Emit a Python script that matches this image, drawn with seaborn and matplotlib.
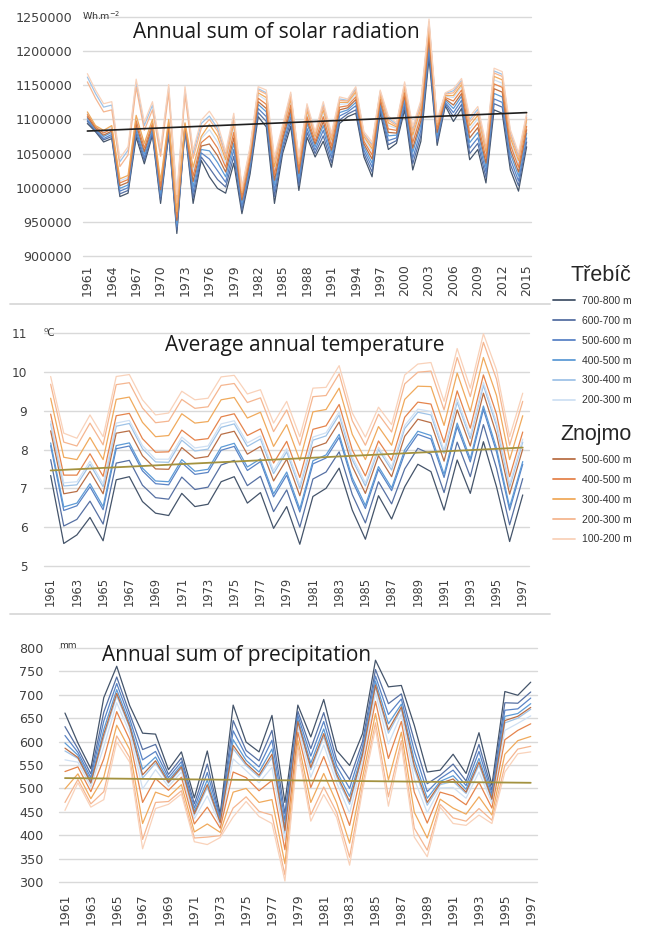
import pandas as pd
import matplotlib
matplotlib.use("Agg")
import matplotlib.pyplot as plt
from matplotlib.lines import Line2D
import seaborn as sns

# ---------------------------------------------------------------- data
years_solar = list(range(1961, 2016))
years_clim = list(range(1961, 1998))

bands_trebic = ["700-800 m", "600-700 m", "500-600 m", "400-500 m", "300-400 m", "200-300 m"]
bands_znojmo = ["500-600 m", "400-500 m", "300-400 m", "200-300 m", "100-200 m"]

# Annual sum of solar radiation, thousands of Wh.m-2
sol_t700 = [1094,1082,1067,1072,987,992,1074,1035,1077,977,1078,933,1085,977,1040,
            1016,999,992,1036,962,1020,1104,1089,977,1050,
            1090,996,1074,1045,1068,1030,1094,1104,1109,1045,
            1016,1110,1056,1065,1114,1026,1068,1190,1062,1120,
            1097,1116,1041,1056,1007,1114,1109,1026,995,1060]
sol_t600 = [1097,1083,1070,1075,991,996,1079,1040,1080,982,1081,938,1087,985,1045,
            1029,1012,1001,1046,967,1026,1110,1097,987,1056,
            1097,1003,1081,1050,1076,1037,1099,1108,1114,1050,
            1023,1115,1063,1069,1120,1035,1076,1198,1067,1123,
            1104,1122,1050,1065,1015,1123,1118,1034,1003,1067]
sol_t500 = [1099,1085,1072,1078,995,1000,1084,1044,1084,987,1085,943,1088,993,1051,
            1042,1025,1008,1056,973,1031,1116,1104,995,1061,
            1104,1009,1087,1055,1084,1044,1105,1111,1120,1055,
            1030,1119,1069,1073,1125,1043,1084,1205,1072,1125,
            1110,1128,1058,1073,1023,1130,1125,1042,1010,1073]
sol_t400 = [1102,1086,1075,1081,999,1004,1088,1049,1087,992,1088,947,1090,1001,1056,
            1054,1037,1016,1065,978,1036,1122,1111,1004,1067,
            1110,1016,1094,1060,1091,1050,1110,1114,1125,1060,
            1036,1123,1076,1077,1130,1052,1092,1213,1077,1128,
            1116,1134,1066,1081,1030,1138,1133,1050,1017,1080]
sol_t300 = [1162,1138,1118,1121,1038,1055,1154,1091,1121,1053,1146,985,1143,1050,1094,
            1105,1087,1049,1104,998,1057,1145,1139,1040,1089,
            1137,1042,1120,1079,1122,1077,1130,1128,1145,1079,
            1063,1141,1102,1093,1152,1086,1124,1243,1097,1138,
            1142,1157,1100,1115,1061,1171,1166,1081,1047,1106]
sol_t200 = [1109,1090,1082,1089,1010,1015,1103,1062,1098,1007,1098,962,1094,1025,1072,
            1085,1067,1036,1089,990,1049,1136,1128,1026,1080,
            1126,1031,1109,1072,1110,1066,1122,1123,1137,1072,
            1053,1134,1091,1087,1144,1072,1111,1231,1089,1134,
            1132,1148,1086,1101,1049,1158,1153,1068,1035,1095]
sol_z500 = [1104,1087,1077,1083,1003,1008,1093,1053,1091,997,1091,952,1091,1009,1061,
            1064,1047,1023,1073,982,1040,1126,1116,1011,1071,
            1115,1021,1099,1064,1097,1055,1114,1117,1129,1064,
            1042,1127,1081,1080,1135,1058,1098,1219,1081,1130,
            1121,1138,1073,1088,1036,1145,1140,1056,1023,1085]
sol_z400 = [1107,1089,1080,1086,1007,1012,1098,1058,1094,1002,1095,957,1093,1017,1066,
            1076,1058,1030,1081,986,1045,1131,1122,1019,1076,
            1121,1026,1104,1068,1104,1061,1118,1120,1133,1068,
            1048,1130,1086,1084,1139,1066,1105,1225,1086,1132,
            1127,1143,1080,1095,1043,1152,1147,1063,1030,1090]
sol_z300 = [1111,1091,1084,1091,1013,1018,1106,1065,1100,1010,1100,965,1095,1030,1075,
            1093,1075,1041,1094,993,1052,1139,1132,1031,1084,
            1130,1035,1113,1075,1114,1070,1125,1125,1140,1075,
            1057,1136,1095,1089,1147,1077,1116,1236,1092,1135,
            1135,1151,1091,1106,1053,1163,1158,1073,1040,1099]
sol_z200 = [1155,1131,1111,1114,1031,1048,1147,1084,1114,1046,1139,978,1136,1043,1087,
            1100,1083,1046,1100,996,1055,1143,1137,1037,1087,
            1134,1039,1117,1078,1119,1074,1128,1127,1143,1078,
            1061,1139,1099,1091,1150,1082,1121,1240,1095,1137,
            1139,1155,1096,1111,1058,1168,1163,1078,1044,1103]
sol_z100 = [1167,1143,1123,1126,1043,1060,1159,1096,1126,1058,1151,990,1148,1055,1099,
            1112,1094,1053,1109,1001,1060,1148,1143,1045,1092,
            1140,1045,1123,1082,1126,1080,1133,1130,1148,1082,
            1067,1143,1105,1095,1155,1090,1128,1247,1100,1139,
            1145,1160,1104,1119,1065,1175,1170,1085,1051,1109]
sol_trend = [1083, 1110]

# Average annual temperature, deg C
tmp_t700 = [7.33,5.58,5.80,6.25,5.65,7.22,7.30,6.66,6.36,6.30,
            6.87,6.53,6.59,7.17,7.30,6.62,6.89,5.97,6.53,5.56,
            6.79,7.00,7.52,6.44,5.69,6.81,6.21,7.04,7.62,7.43,
            6.44,7.73,6.87,8.20,7.04,5.63,6.83]
tmp_t600 = [7.74,6.03,6.20,6.67,6.08,7.65,7.72,7.08,6.76,6.72,
            7.29,6.97,7.03,7.60,7.72,7.07,7.31,6.40,6.96,6.00,
            7.24,7.42,7.94,6.84,6.11,7.17,6.60,7.50,8.03,7.88,
            6.89,8.19,7.30,8.64,7.52,6.06,7.25]
tmp_t500 = [8.10,6.43,6.55,7.04,6.45,8.02,8.09,7.45,7.12,7.09,
            7.66,7.36,7.41,7.98,8.08,7.46,7.69,6.78,7.34,6.39,
            7.63,7.78,8.31,7.19,6.48,7.49,6.94,7.90,8.39,8.27,
            7.28,8.59,7.68,9.03,7.94,6.44,7.62]
tmp_t400 = [8.17,6.52,6.62,7.12,6.53,8.10,8.17,7.52,7.19,7.17,
            7.74,7.44,7.49,8.06,8.16,7.55,7.76,6.86,7.42,6.47,
            7.71,7.86,8.39,7.27,6.56,7.56,7.01,7.99,8.47,8.36,
            7.36,8.68,7.76,9.12,8.03,6.52,7.69]
tmp_t300 = [8.66,7.06,7.09,7.62,7.04,8.60,8.67,8.02,7.68,7.67,
            8.24,7.96,8.01,8.57,8.66,8.08,8.27,7.38,7.94,7.00,
            8.24,8.35,8.89,7.74,7.06,8.00,7.47,8.54,8.96,8.89,
            7.90,9.22,8.28,9.65,8.61,7.03,8.19]
tmp_t200 = [8.73,7.14,7.17,7.70,7.12,8.68,8.75,8.10,7.75,7.75,
            8.32,8.04,8.09,8.66,8.74,8.17,8.35,7.46,8.02,7.08,
            8.32,8.43,8.97,7.82,7.14,8.06,7.55,8.62,9.04,8.98,
            7.98,9.31,8.36,9.73,8.70,7.12,8.27]
tmp_z500 = [8.48,6.86,6.92,7.44,6.86,8.42,8.48,7.84,7.50,7.49,
            8.05,7.77,7.82,8.39,8.47,7.88,8.08,7.19,7.75,6.81,
            8.05,8.17,8.71,7.57,6.87,7.84,7.30,8.34,8.78,8.69,
            7.70,9.02,8.09,9.45,8.39,6.85,8.01]
tmp_z400 = [8.91,7.34,7.34,7.89,7.31,8.87,8.93,8.28,7.93,7.94,
            8.50,8.24,8.28,8.84,8.92,8.36,8.53,7.65,8.21,7.28,
            8.52,8.61,9.16,7.99,7.32,8.22,7.72,8.83,9.22,9.17,
            8.18,9.51,8.55,9.92,8.91,7.30,8.45]
tmp_z300 = [9.32,7.80,7.74,8.31,7.74,9.29,9.35,8.70,8.33,8.36,
            8.92,8.68,8.72,9.28,9.34,8.81,8.96,8.08,8.64,7.72,
            8.97,9.03,9.58,8.39,7.74,8.59,8.11,9.29,9.63,9.62,
            8.62,9.97,8.98,10.37,9.39,7.74,8.87]
tmp_z200 = [9.68,8.19,8.09,8.68,8.12,9.67,9.72,9.07,8.69,8.73,
            9.29,9.06,9.10,9.65,9.70,9.21,9.33,8.46,9.02,8.11,
            9.36,9.39,9.95,8.74,8.11,8.91,8.45,9.69,9.99,10.02,
            9.02,10.37,9.36,10.76,9.81,8.11,9.24]
tmp_z100 = [9.88,8.42,8.29,8.89,8.33,9.88,9.93,9.28,8.89,8.94,
            9.50,9.28,9.32,9.87,9.91,9.43,9.54,8.68,9.24,8.33,
            9.58,9.60,10.16,8.94,8.32,9.09,8.64,9.92,10.20,10.24,
            9.24,10.60,9.58,10.98,10.05,8.33,9.45]
tmp_trend = [7.46, 8.05]

# Annual sum of precipitation, mm
pre_t700 = [661,597,542,694,761,677,618,616,540,578,480,580,445,678,599,578,656,470,678,610,
            690,581,549,617,774,717,720,635,535,539,573,532,619,507,707,699,727]
pre_t600 = [632,585,531,663,738,660,583,594,530,565,467,552,438,645,581,559,624,446,665,585,
            662,561,519,600,754,681,702,602,510,528,552,516,594,496,683,682,706]
pre_t500 = [613,577,523,644,724,649,561,579,523,557,458,534,434,623,570,546,603,431,656,569,
            643,548,500,589,740,658,691,580,493,521,539,506,579,488,667,670,693]
pre_t400 = [597,571,517,626,711,639,541,567,517,550,451,518,430,604,560,535,584,418,648,554,
            627,537,483,579,729,638,680,561,479,515,527,498,564,482,654,660,681]
pre_t300 = [580,564,510,609,698,630,522,554,511,543,443,502,426,585,549,524,566,404,641,540,
            611,525,466,570,717,618,670,542,464,508,515,489,550,475,640,650,669]
pre_t200 = [561,556,503,589,683,619,499,540,504,535,435,484,421,563,538,512,545,389,632,524,
            593,512,447,559,704,595,659,520,448,501,502,479,535,468,624,639,655]
pre_z500 = [586,566,512,616,703,633,529,559,513,546,446,508,427,592,553,528,573,410,643,545,
            617,530,472,573,721,625,674,549,470,511,520,492,556,477,645,654,673]
pre_z400 = [536,546,493,563,664,604,470,521,496,524,424,460,415,535,523,495,517,369,620,502,
            568,495,421,544,686,564,643,492,426,492,484,465,513,458,604,624,638]
pre_z300 = [499,531,478,524,635,583,425,492,482,508,407,424,406,492,500,470,476,339,603,470,
            532,469,383,523,660,518,620,449,394,477,458,445,482,443,573,602,611]
pre_z200 = [470,519,467,493,612,566,391,470,472,495,394,396,399,458,482,451,443,315,590,444,
            503,449,353,506,640,482,602,415,368,466,437,430,457,432,549,584,590]
pre_z100 = [453,512,460,476,599,556,371,457,466,488,386,380,395,439,472,440,425,302,582,430,
            487,438,336,496,628,462,592,396,354,460,425,421,443,425,535,574,578]
pre_trend = [522, 512]

trebic_colors = ["#44546a", "#5670a3", "#5a84c6", "#5e9bd6", "#9fc3e7", "#cfe0f3"]
znojmo_colors = ["#b96f46", "#e5844c", "#f0aa5c", "#f5b690", "#f9d2ba"]
trend_olive = "#a3923f"

# ---------------------------------------------------------------- frames
keys = [f"Třebíč {b}" for b in bands_trebic] + [f"Znojmo {b}" for b in bands_znojmo]
palette = dict(zip(keys, trebic_colors + znojmo_colors))


def long_frame(years, columns, scale=1.0):
    parts = []
    for key, vals in zip(keys, columns):
        parts.append(pd.DataFrame({"year": years,
                                   "value": [v * scale for v in vals],
                                   "series": key}))
    return pd.concat(parts, ignore_index=True)


solar_df = long_frame(years_solar, [sol_t700, sol_t600, sol_t500, sol_t400, sol_t300, sol_t200,
                                    sol_z500, sol_z400, sol_z300, sol_z200, sol_z100], 1000)
temp_df = long_frame(years_clim, [tmp_t700, tmp_t600, tmp_t500, tmp_t400, tmp_t300, tmp_t200,
                                  tmp_z500, tmp_z400, tmp_z300, tmp_z200, tmp_z100])
prec_df = long_frame(years_clim, [pre_t700, pre_t600, pre_t500, pre_t400, pre_t300, pre_t200,
                                  pre_z500, pre_z400, pre_z300, pre_z200, pre_z100])

# ---------------------------------------------------------------- figure
sns.set_theme(style="white")
plt.rcParams["font.family"] = ["DejaVu Sans"]

W, H = 645, 926
fig = plt.figure(figsize=(W / 100, H / 100), dpi=100)
fig.patch.set_facecolor("white")


def px_axes(x0, x1, ytop, ybot):
    return fig.add_axes([x0 / W, 1 - ybot / H, (x1 - x0) / W, (ybot - ytop) / H])


ax_sol = px_axes(83.3, 530.7, 17, 256)
ax_tmp = px_axes(44.1, 529.3, 333, 566)
ax_pre = px_axes(58.5, 537.2, 648, 882)

line_kw = dict(x="year", y="value", hue="series", hue_order=keys, palette=palette,
               legend=False, linewidth=0.9)
sns.lineplot(data=solar_df, ax=ax_sol, **line_kw)
sns.lineplot(data=temp_df, ax=ax_tmp, **line_kw)
sns.lineplot(data=prec_df, ax=ax_pre, **line_kw)

sns.lineplot(x=[years_solar[0], years_solar[-1]], y=[v * 1000 for v in sol_trend],
             ax=ax_sol, color="#1f1f1f", linewidth=1.2)
sns.lineplot(x=[years_clim[0], years_clim[-1]], y=tmp_trend, ax=ax_tmp,
             color=trend_olive, linewidth=1.3)
sns.lineplot(x=[years_clim[0], years_clim[-1]], y=pre_trend, ax=ax_pre,
             color=trend_olive, linewidth=1.3)


def style(ax, years, xstep, ylim, ystep, yfs, xfs, ypad, xpad):
    ax.set_xlim(years[0] - 0.5, years[-1] + 0.5)
    ax.set_ylim(*ylim)
    yt = list(range(ylim[0], ylim[1] + 1, ystep))
    ax.set_yticks(yt)
    ax.set_yticklabels([f"{v:d}" for v in yt], fontsize=yfs, color="#404040")
    xt = years[::xstep]
    ax.set_xticks(xt)
    ax.set_xticklabels([str(v) for v in xt], rotation=90, fontsize=xfs, color="#404040")
    ax.grid(axis="y", color="#d9d9d9", linewidth=1.0)
    ax.grid(axis="x", visible=False)
    for s in ax.spines.values():
        s.set_visible(False)
    ax.tick_params(axis="y", length=0, pad=ypad)
    ax.tick_params(axis="x", length=0, pad=xpad)
    ax.set_xlabel("")
    ax.set_ylabel("")
    ax.set_facecolor("white")
    for gl in ax.get_ygridlines():
        gl.set_clip_on(False)


style(ax_sol, years_solar, 3, (900000, 1250000), 50000, 9.2, 9.0, 8, 6)
style(ax_tmp, years_clim, 2, (5, 11), 1, 8.7, 8.3, 12, 8)
style(ax_pre, years_clim, 2, (300, 800), 50, 9.2, 9.0, 11, 8)

# ---------------------------------------------------------------- titles and units
title_kw = dict(fontsize=15, family="Open Sans", color="#1a1a1a", ha="center", va="center")
fig.text(276.5 / W, 1 - 33 / H, "Annual sum of solar radiation", **title_kw)
fig.text(305 / W, 1 - 345 / H, "Average annual temperature", **title_kw)
fig.text(236.5 / W, 1 - 656 / H, "Annual sum of precipitation", **title_kw)

unit_kw = dict(color="#333333", ha="left", va="center")
fig.text(82 / W, 1 - 16 / H, "Wh.m$^{-2}$", fontsize=6.8, **unit_kw)
fig.text(43 / W, 1 - 333.5 / H, "⁰C", fontsize=7.5, **unit_kw)
fig.text(59 / W, 1 - 646 / H, "mm", fontsize=6.5, **unit_kw)

# separators between the panels
for ysep in (304, 614):
    fig.add_artist(Line2D([10 / W, 550 / W], [1 - ysep / H, 1 - ysep / H],
                          color="#d9d9d9", linewidth=1.3, transform=fig.transFigure))

# ---------------------------------------------------------------- legends
leg_kw = dict(loc="upper left", frameon=False, borderpad=0, borderaxespad=0,
              handlelength=2.1, handletextpad=0.65, labelspacing=0.95,
              alignment="right",
              prop={"family": "Liberation Sans", "size": 7.5},
              title_fontproperties={"family": "Liberation Sans", "size": 15.5})

h_treb = [Line2D([], [], color=c, linewidth=1.3) for c in trebic_colors]
h_znoj = [Line2D([], [], color=c, linewidth=1.3) for c in znojmo_colors]
leg1 = fig.legend(h_treb, bands_trebic, title="Třebíč",
                  bbox_to_anchor=(553 / W, 1 - 265 / H), **leg_kw)
leg2 = fig.legend(h_znoj, bands_znojmo, title="Znojmo",
                  bbox_to_anchor=(553 / W, 1 - 424 / H), **leg_kw)
for lg in (leg1, leg2):
    for t in lg.get_texts():
        t.set_color("#333333")

fig.savefig("out.png", dpi=100, facecolor="white")
